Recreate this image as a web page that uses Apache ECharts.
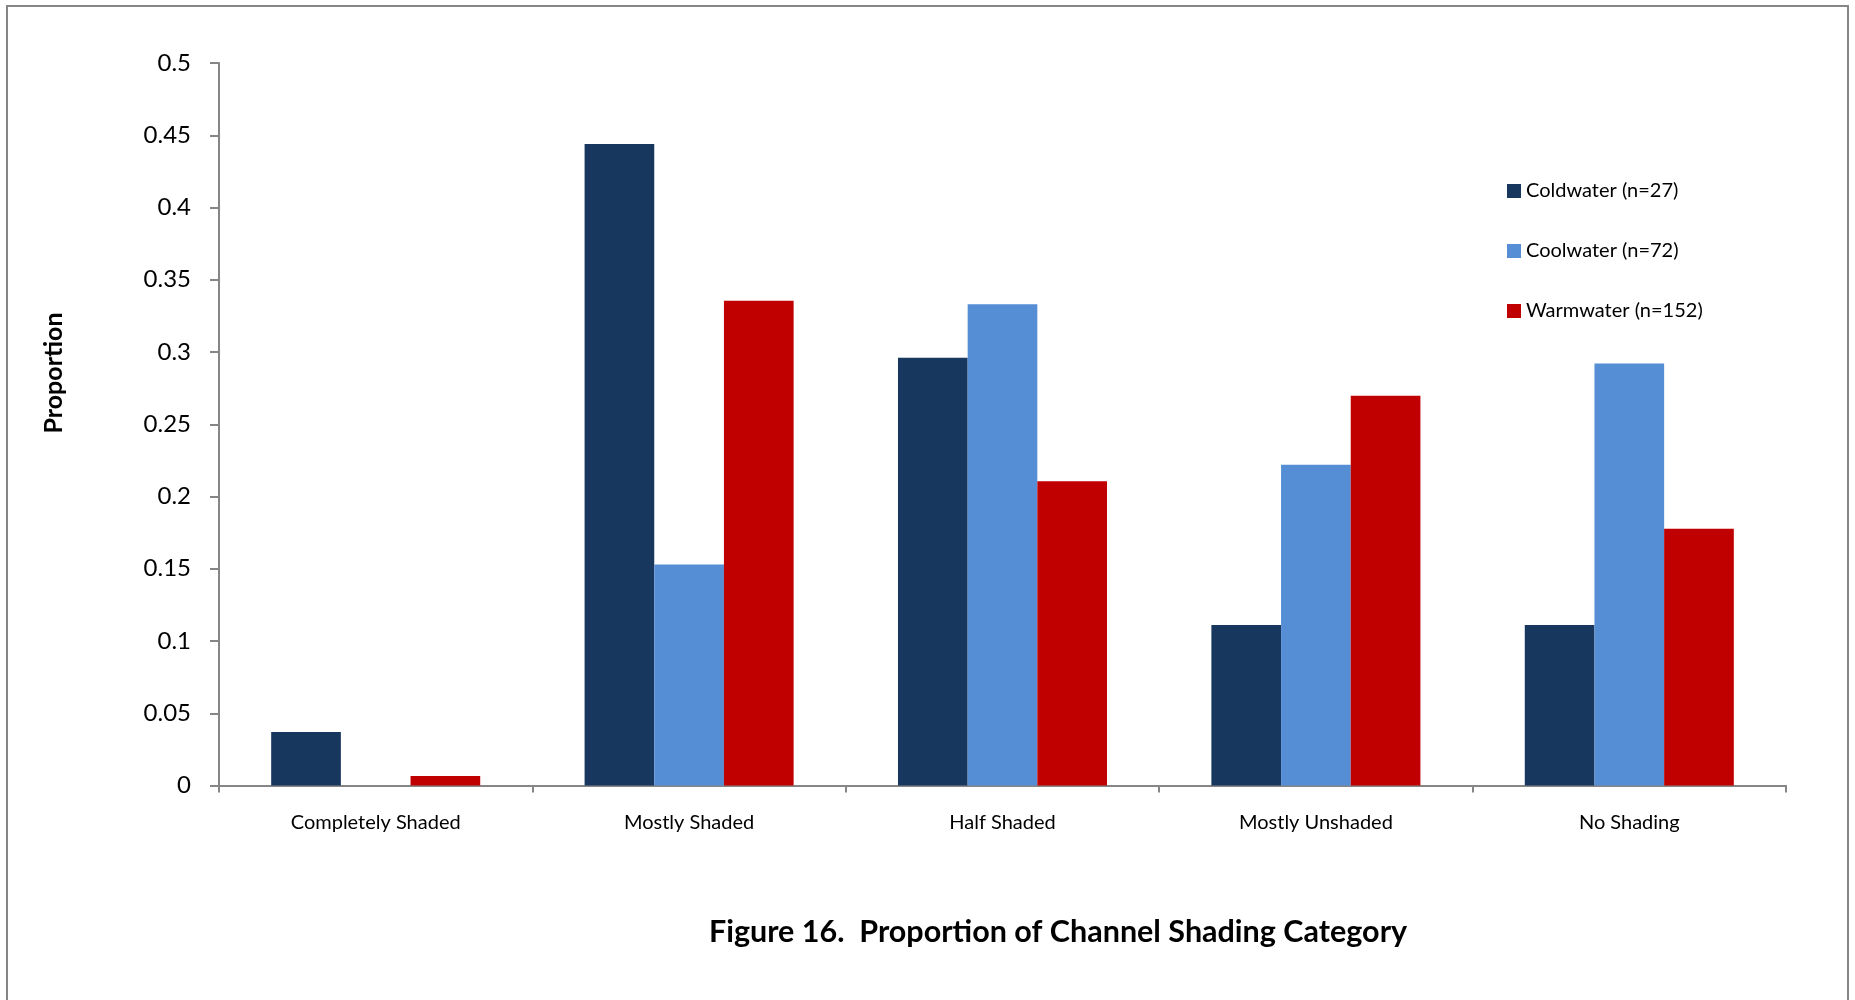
<!DOCTYPE html>
<html>
<head>
<meta charset="utf-8">
<script src="https://cdn.jsdelivr.net/npm/echarts@6/dist/echarts.min.js"></script>
<style>
  html, body { margin: 0; padding: 0; background: #ffffff; }
  #chart { width: 1855px; height: 1000px; }
</style>
</head>
<body>
<div id="chart"></div>
<script>
// Shading categories along the channel
const categories = ['Completely Shaded', 'Mostly Shaded', 'Half Shaded', 'Mostly Unshaded', 'No Shading'];

// Proportion of sites in each shading category, per stream temperature class
const coldwater = [0.037, 0.444, 0.296, 0.111, 0.111];
const coolwater = [0, 0.153, 0.333, 0.222, 0.292];
const warmwater = [0.0066, 0.3355, 0.2105, 0.2697, 0.1776];

const seriesNames = ['Coldwater (n=27)', 'Coolwater (n=72)', 'Warmwater (n=152)'];
const yTicks = { min: 0, max: 0.5, interval: 0.05 };

const FONT = 'Lato';
const AXIS_GRAY = '#868686';

const chart = echarts.init(document.getElementById('chart'), null, { renderer: 'canvas' });

chart.setOption({
  backgroundColor: '#ffffff',
  animation: false,
  title: {
    text: 'Figure 16.  Proportion of Channel Shading Category',
    left: 1058,
    textAlign: 'center',
    top: 917,
    padding: 0,
    textStyle: { fontFamily: FONT, fontWeight: 'bold', fontSize: 30.5, color: '#000000' }
  },
  legend: {
    orient: 'vertical',
    left: 1507,
    top: 180,
    padding: 0,
    itemWidth: 14,
    itemHeight: 14,
    itemGap: 38,
    icon: 'rect',
    textStyle: { fontFamily: FONT, fontSize: 20, color: '#000000', lineHeight: 22 },
    data: seriesNames
  },
  grid: { left: 219, right: 69, top: 63, bottom: 214.5, containLabel: false },
  xAxis: {
    type: 'category',
    data: categories,
    boundaryGap: true,
    axisLine: { lineStyle: { color: AXIS_GRAY, width: 2 } },
    axisTick: { show: true, length: 7, lineStyle: { color: AXIS_GRAY, width: 2 } },
    axisLabel: { fontFamily: FONT, fontSize: 20, color: '#000000', margin: 27 },
    splitLine: { show: false }
  },
  yAxis: {
    type: 'value',
    min: yTicks.min,
    max: yTicks.max,
    interval: yTicks.interval,
    axisLine: { show: true, lineStyle: { color: AXIS_GRAY, width: 2 } },
    axisTick: { show: true, length: 9, lineStyle: { color: AXIS_GRAY, width: 2 } },
    axisLabel: { fontFamily: FONT, fontSize: 24, color: '#000000', margin: 28 },
    splitLine: { show: false }
  },
  graphic: [
    {
      type: 'rect',
      shape: { x: 7, y: 6, width: 1841, height: 1010 },
      style: { fill: 'none', stroke: AXIS_GRAY, lineWidth: 2 },
      silent: true
    },
    {
      type: 'text',
      x: 54,
      y: 373,
      rotation: Math.PI / 2,
      style: {
        text: 'Proportion',
        fontFamily: FONT,
        fontWeight: 'bold',
        fontSize: 25,
        fill: '#000000',
        align: 'center',
        verticalAlign: 'middle'
      }
    }
  ],
  series: [
    {
      name: seriesNames[0],
      type: 'bar',
      data: coldwater,
      barGap: '0%',
      barCategoryGap: '33.3%',
      itemStyle: { color: '#17375E' }
    },
    {
      name: seriesNames[1],
      type: 'bar',
      data: coolwater,
      barGap: '0%',
      barCategoryGap: '33.3%',
      itemStyle: { color: '#558ED5' }
    },
    {
      name: seriesNames[2],
      type: 'bar',
      data: warmwater,
      barGap: '0%',
      barCategoryGap: '33.3%',
      itemStyle: { color: '#C00000' }
    }
  ]
});
</script>
</body>
</html>
